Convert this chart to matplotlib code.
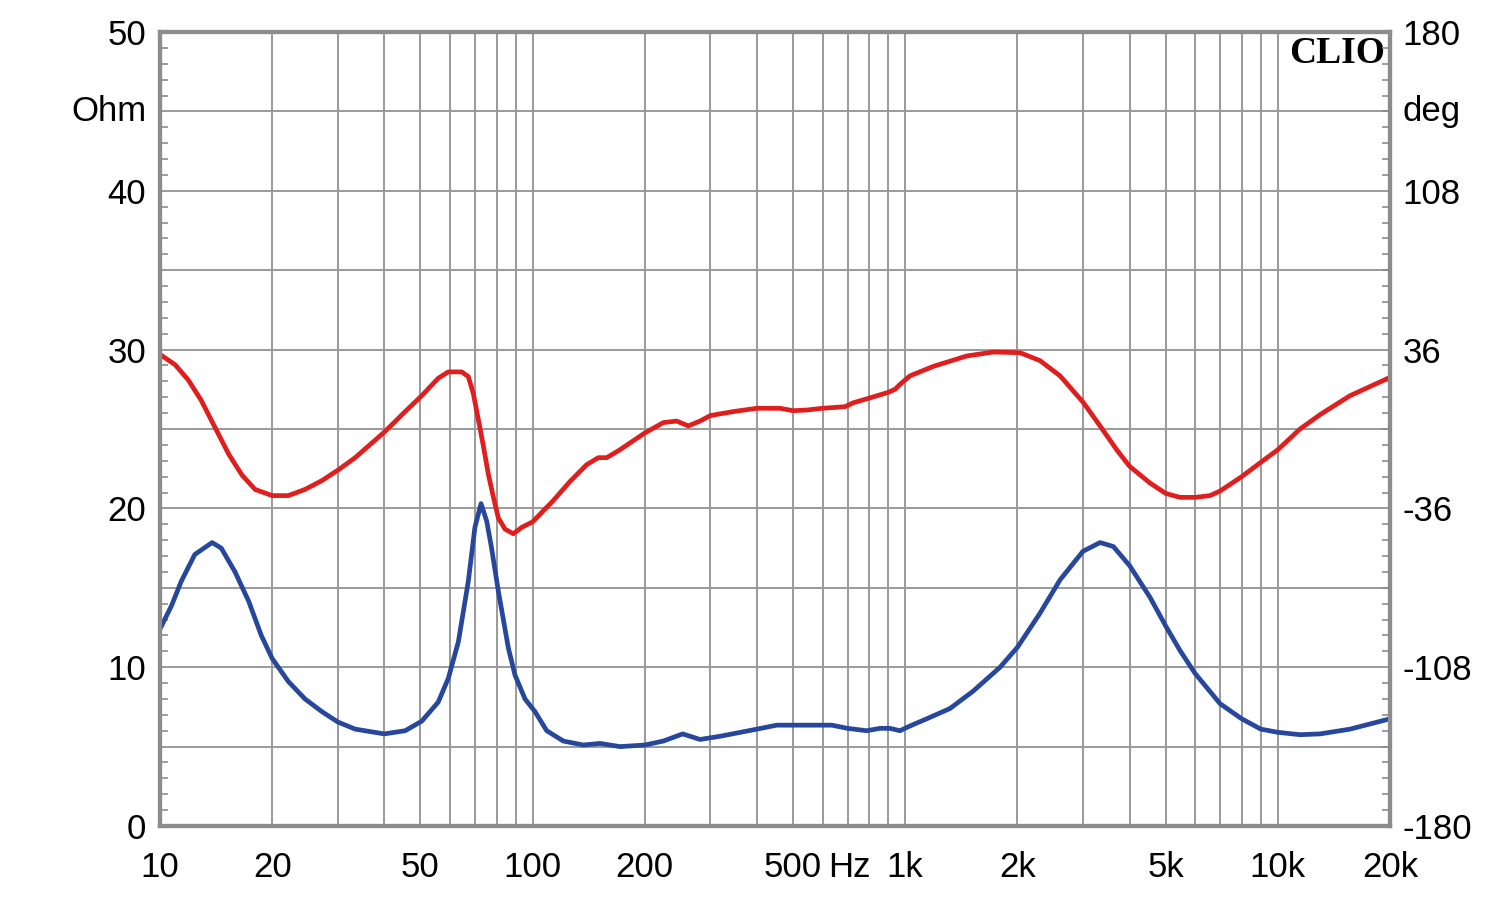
import matplotlib.pyplot as plt
from matplotlib.ticker import FixedLocator, MultipleLocator, NullFormatter, LogLocator

# Impedance modulus (blue, left axis, Ohm)
imp_freq = [10, 10.75, 11.4, 12.4, 13.8, 14.6, 15.9, 17.3, 18.7, 20, 22.1, 24.5, 27.2,
            30, 33.4, 40, 45.5, 50.4, 55.8, 59.4, 63.2, 67.2, 70.0, 72.7, 75.3, 77.6,
            80.9, 86.1, 89.7, 95.4, 101.5, 109.1, 120.9, 136.8, 151.7, 171.6, 200,
            224.3, 252.8, 281.4, 318.4, 400, 452, 500, 635, 700, 788, 856, 910, 968,
            1030, 1142, 1319, 1523, 1797, 2000, 2300, 2603, 3000, 3333, 3619, 4000,
            4539, 5000, 5464, 6000, 7000, 8000, 9000, 10000, 11470, 12980, 15620, 20000]
imp_ohm = [12.4, 13.9, 15.4, 17.1, 17.85, 17.5, 16.0, 14.15, 12.0, 10.55, 9.1, 8.0, 7.2,
           6.55, 6.1, 5.8, 6.0, 6.6, 7.8, 9.3, 11.6, 15.4, 18.8, 20.3, 19.2, 17.5,
           14.8, 11.2, 9.5, 8.0, 7.2, 6.0, 5.35, 5.1, 5.2, 5.0, 5.1,
           5.35, 5.8, 5.45, 5.65, 6.1, 6.35, 6.35, 6.35, 6.15, 6.0, 6.15, 6.15, 6.0,
           6.3, 6.75, 7.4, 8.5, 10.0, 11.25, 13.4, 15.5, 17.3, 17.85, 17.6, 16.4,
           14.4, 12.6, 11.05, 9.6, 7.7, 6.75, 6.1, 5.9, 5.75, 5.8, 6.1, 6.75]

# Phase (red, right axis, deg)
ph_freq = [10, 10.97, 11.9, 12.9, 14.05, 15.3, 16.6, 18.0, 20, 22.1, 24.5, 27.2, 30,
           33.4, 40, 45.5, 50.4, 55.8, 59.4, 64.5, 67.2, 69.3, 71.5, 73.8, 76.0, 78.5,
           80.9, 84.3, 88.8, 93.5, 100, 113.7, 126.0, 139.6, 150.1, 158.1, 171.6, 200,
           224.3, 243.6, 261.7, 281.4, 300, 345.6, 400, 461, 500, 544, 600, 689, 726,
           800, 900, 939, 968, 1030, 1190, 1462, 1723, 2033, 2300, 2603, 3000, 3333,
           3694, 4000, 4539, 5000, 5464, 6000, 6577, 7000, 8000, 9000, 10000, 11470,
           12980, 15620, 20000]
ph_deg = [33.8, 29.2, 22.3, 13.0, 0.7, -11.5, -20.9, -27.4, -30.2, -30.2, -27.4, -23.4, -18.7,
          -13.0, -1.4, 7.9, 15.1, 23.0, 25.9, 25.9, 23.8, 16.2, 4.3, -7.9, -20.2, -31.0,
          -40.3, -45.4, -47.5, -44.6, -42.1, -32.4, -23.8, -16.2, -13.0, -13.0, -9.4, -1.8,
          2.9, 3.6, 1.4, 3.6, 6.1, 7.9, 9.4, 9.4, 8.3, 8.6, 9.4, 10.1, 11.9,
          14.0, 16.6, 18.0, 20.2, 24.1, 28.4, 33.1, 34.9, 34.6, 31.0, 24.1, 12.2, 1.4,
          -9.4, -16.9, -24.5, -29.2, -31.0, -31.0, -30.2, -28.1, -21.6, -15.1, -9.4, 0.0,
          6.5, 15.1, 23.4]

x_ticks = [10, 20, 50, 100, 200, 500, 1000, 2000, 5000, 10000, 20000]
x_labels = ['10', '20', '50', '100', '200', '500', '1k', '2k', '5k', '10k', '20k']
deg_ticks = [-180, -108, -36, 36, 108, 180]
deg_labels = ['-180', '-108', '-36', '36', '108', '180']

plt.rcParams['font.family'] = ['Liberation Sans', 'DejaVu Sans']
grid_col = '#9a9a9a'
spine_col = '#8c8c8c'
fs = 25

fig = plt.figure(figsize=(15, 9.01), dpi=100)
ax = fig.add_axes([160 / 1500, 75 / 901, 1230 / 1500, 794 / 901])
ax2 = ax.twinx()

ax.set_xscale('log')
ax.set_xlim(10, 20000)
ax.set_ylim(0, 50)
ax2.set_ylim(-180, 180)

ax.plot(imp_freq, imp_ohm, color='#26479c', lw=3.4, solid_joinstyle='round')
ax2.plot(ph_freq, ph_deg, color='#e01e1e', lw=3.4, solid_joinstyle='round')

# x grid at every 1..9 multiple
ax.xaxis.set_major_locator(FixedLocator(x_ticks))
ax.set_xticklabels(x_labels)
ax.xaxis.set_minor_locator(LogLocator(base=10, subs=range(1, 10), numticks=20))
ax.xaxis.set_minor_formatter(NullFormatter())
ax.grid(True, which='both', axis='x', color=grid_col, lw=1.4)
ax.yaxis.set_major_locator(MultipleLocator(5))
ax.grid(True, which='major', axis='y', color=grid_col, lw=1.4)
ax.set_yticklabels(['' if v % 10 else str(int(v)) for v in ax.get_yticks()])
ax.yaxis.set_minor_locator(MultipleLocator(1))

ax2.yaxis.set_major_locator(FixedLocator(deg_ticks))
ax2.set_yticklabels(deg_labels)
ax2.yaxis.set_minor_locator(MultipleLocator(7.2))

ax.tick_params(which='both', axis='x', length=0, labelsize=fs, pad=18)
ax.tick_params(which='major', axis='y', length=0, labelsize=fs, pad=10)
ax.tick_params(which='minor', axis='y', direction='in', length=6, width=1.2, color=spine_col)
ax2.tick_params(which='major', axis='y', length=0, labelsize=fs, pad=9)
ax2.tick_params(which='minor', axis='y', direction='in', length=6, width=1.2, color=spine_col)

for a in (ax, ax2):
    for s in a.spines.values():
        s.set_color(spine_col)
        s.set_linewidth(3)

ax.text(-0.011, 0.9, 'Ohm', transform=ax.transAxes, ha='right', va='center', fontsize=fs)
ax2.text(1.01, 0.9, 'deg', transform=ax.transAxes, ha='left', va='center', fontsize=fs)
# "Hz" sits between the 500 and 1k labels
ax.text(706, -0.052, 'Hz', transform=ax.get_xaxis_transform(), ha='center', va='center', fontsize=fs)
ax.text(0.996, 0.995, 'CLIO', transform=ax.transAxes, ha='right', va='top', fontsize=27,
        fontweight='bold', family='Liberation Serif')

fig.savefig('out.png', dpi=100)
